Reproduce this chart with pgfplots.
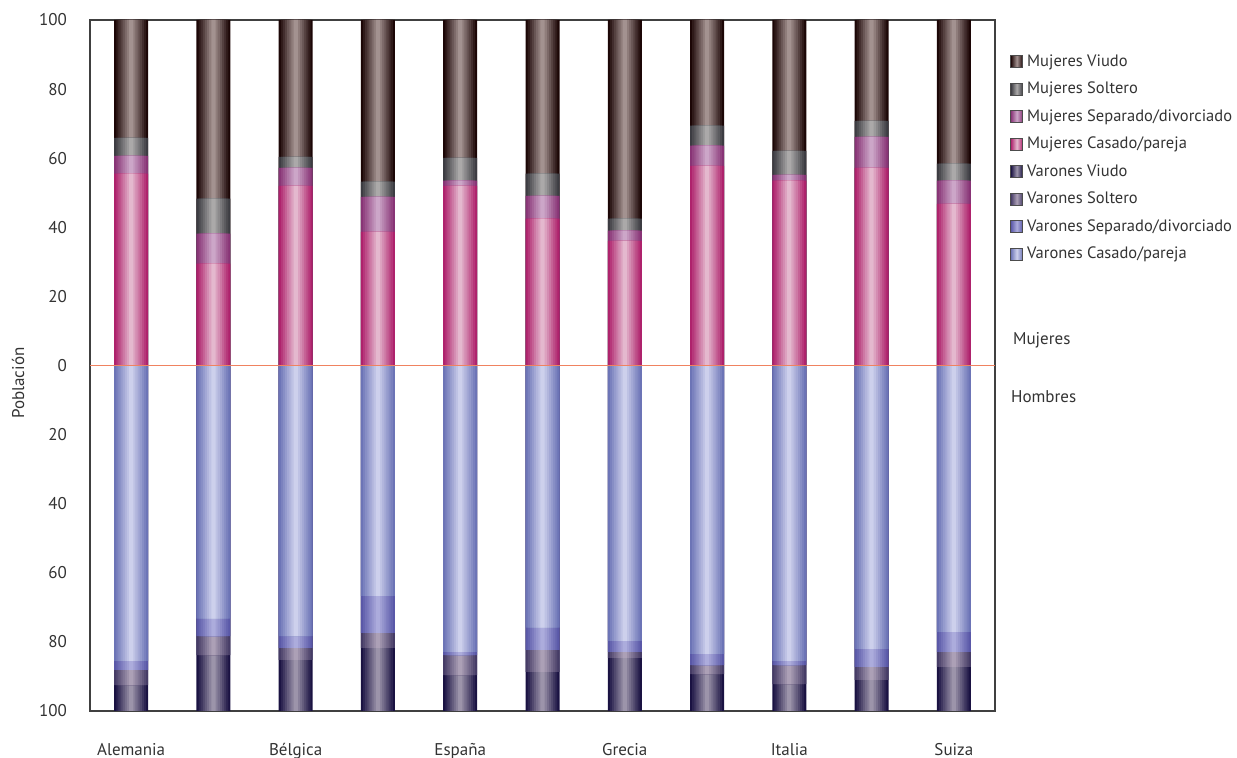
\documentclass[border=0pt]{standalone}
\usepackage{pgfplots}
\pgfplotsset{compat=1.18}
\usepackage{pgfplotstable}
\usepackage{fontspec}
\setmainfont{PT Sans}

\definecolor{mviuE}{HTML}{1C0606}\definecolor{mviuM}{HTML}{A39290}
\definecolor{msolE}{HTML}{3C3C42}\definecolor{msolM}{HTML}{ABA9A9}
\definecolor{msepE}{HTML}{883476}\definecolor{msepM}{HTML}{CCA6C8}
\definecolor{mcasE}{HTML}{AE226C}\definecolor{mcasM}{HTML}{E4B8CE}
\definecolor{vviuE}{HTML}{1A1242}\definecolor{vviuM}{HTML}{9C94AA}
\definecolor{vsolE}{HTML}{463C66}\definecolor{vsolM}{HTML}{ACA0B6}
\definecolor{vsepE}{HTML}{5A58A8}\definecolor{vsepM}{HTML}{ACACDC}
\definecolor{vcasE}{HTML}{6C74B6}\definecolor{vcasM}{HTML}{CDD0EC}
\definecolor{zerocol}{HTML}{F08260}
\definecolor{txt}{HTML}{333333}

\pgfplotsset{
  mviu/.style={left color=mviuE, right color=mviuE, middle color=mviuM},
  msol/.style={left color=msolE, right color=msolE, middle color=msolM},
  msep/.style={left color=msepE, right color=msepE, middle color=msepM},
  mcas/.style={left color=mcasE, right color=mcasE, middle color=mcasM},
  vviu/.style={left color=vviuE, right color=vviuE, middle color=vviuM},
  vsol/.style={left color=vsolE, right color=vsolE, middle color=vsolM},
  vsep/.style={left color=vsepE, right color=vsepE, middle color=vsepM},
  vcas/.style={left color=vcasE, right color=vcasE, middle color=vcasM},
}

% data (percent of population)
\pgfplotstableread{
x cas sep sol viu
0  55.5 5.2 5.2 34.1
1  29.5 8.7 10.1 51.7
2  52.0 5.2 3.2 39.6
3  38.7 10.1 4.4 46.8
4  52.0 1.5 6.6 39.9
5  42.5 6.6 6.4 44.5
6  36.1 2.9 3.5 57.5
7  57.8 5.8 5.8 30.6
8  53.5 1.7 6.9 37.9
9  57.2 9.0 4.6 29.2
10 46.8 6.7 4.9 41.6
}\mujeres

\pgfplotstableread{
x cas sep sol viu
0  -85.5 -2.6 -4.4 -7.5
1  -73.3 -5.0 -5.5 -16.2
2  -78.3 -3.4 -3.5 -14.8
3  -66.7 -10.7 -4.3 -18.3
4  -82.9 -0.9 -5.8 -10.4
5  -75.9 -6.4 -6.4 -11.3
6  -79.7 -3.2 -1.7 -15.4
7  -83.5 -3.2 -2.6 -10.7
8  -85.5 -1.2 -5.5 -7.8
9  -82.0 -5.2 -3.8 -9.0
10 -77.1 -5.8 -4.3 -12.8
}\varones

% a segment drawn as nested bars (edge colour outside, light colour in the middle)
\newcommand\shadedbars[4]{%
  \pgfplotsinvokeforeach{0,...,7}{%
    \pgfmathsetmacro\bw{17*(1-##1/8)}%
    \pgfmathtruncatemacro\pct{100*##1/7}%
    \edef\tmp{\noexpand\addplot[ybar, bar shift=0pt, bar width=\bw pt, draw=none,
      fill=#4!\pct!#3, forget plot] table[x=x, y expr={\unexpanded{#2}}] {\noexpand#1};}%
    \tmp
  }%
}

\begin{document}
\begin{tikzpicture}
\useasboundingbox (0,0) rectangle (618.5pt,379pt);

\begin{axis}[
  name=main,
  scale only axis, width=452.5pt, height=345.5pt,
  at={(45pt,23.5pt)}, anchor=south west,
  xmin=-0.5, xmax=10.5,
  ymin=-100, ymax=100,
  axis line style={draw=black!75, line width=0.7pt},
  tick style={draw=none},
  ticklabel style={font=\fontsize{8.5}{10}\selectfont, text=txt},
  /pgf/number format/assume math mode=true,
  ytick={-100,-80,...,100},
  yticklabels={100,80,60,40,20,0,20,40,60,80,100},
  yticklabel style={xshift=-8pt},
  xtick={0,2,4,6,8,10},
  xticklabels={Alemania,Bélgica,España,Grecia,Italia,Suiza},
  xticklabel style={yshift=-12.5pt},
  legend cell align=left,
  legend style={at={(axis description cs:1.0099,0.9624)}, anchor=north west,
    draw=none, fill=none, font=\fontsize{8.25}{10}\selectfont, text=txt,
    row sep=2.4pt},
  legend image code/.code={\draw[#1, draw=black!70, line width=0.4pt] (-2pt,-3pt) rectangle (4pt,3pt);},
]
% Mujeres (upwards), painted from the total down to the first segment
\shadedbars{\mujeres}{\thisrow{cas}+\thisrow{sep}+\thisrow{sol}+\thisrow{viu}}{mviuE}{mviuM}
\shadedbars{\mujeres}{\thisrow{cas}+\thisrow{sep}+\thisrow{sol}}{msolE}{msolM}
\shadedbars{\mujeres}{\thisrow{cas}+\thisrow{sep}}{msepE}{msepM}
\shadedbars{\mujeres}{\thisrow{cas}}{mcasE}{mcasM}
% Varones (downwards)
\shadedbars{\varones}{\thisrow{cas}+\thisrow{sep}+\thisrow{sol}+\thisrow{viu}}{vviuE}{vviuM}
\shadedbars{\varones}{\thisrow{cas}+\thisrow{sep}+\thisrow{sol}}{vsolE}{vsolM}
\shadedbars{\varones}{\thisrow{cas}+\thisrow{sep}}{vsepE}{vsepM}
\shadedbars{\varones}{\thisrow{cas}}{vcasE}{vcasM}

% zero line between the two halves
\addplot[forget plot, sharp plot, no marks, draw=zerocol, line width=0.9pt]
  coordinates {(-0.5,0) (10.5,0)};

\addlegendimage{mviu}\addlegendentry{Mujeres Viudo}
\addlegendimage{msol}\addlegendentry{Mujeres Soltero}
\addlegendimage{msep}\addlegendentry{Mujeres Separado/divorciado}
\addlegendimage{mcas}\addlegendentry{Mujeres Casado/pareja}
\addlegendimage{vviu}\addlegendentry{Varones Viudo}
\addlegendimage{vsol}\addlegendentry{Varones Soltero}
\addlegendimage{vsep}\addlegendentry{Varones Separado/divorciado}
\addlegendimage{vcas}\addlegendentry{Varones Casado/pareja}
\end{axis}

\draw[draw=zerocol, line width=0.9pt] (main.west) -- (main.east);

\node[rotate=90, text=txt, font=\fontsize{8.5}{10}\selectfont] at (9pt,187.5pt) {Población};
\node[anchor=west, text=txt, font=\fontsize{8.5}{10}\selectfont] at (503pt,209pt) {Mujeres};
\node[anchor=west, text=txt, font=\fontsize{8.5}{10}\selectfont] at (502pt,180.5pt) {Hombres};
\end{tikzpicture}
\end{document}
